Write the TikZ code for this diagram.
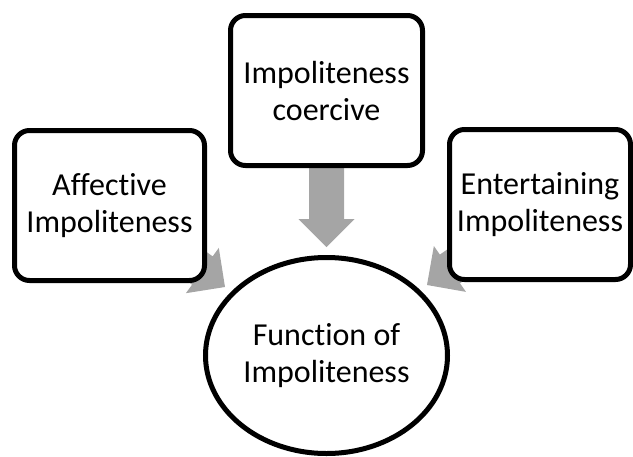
\documentclass[tikz,border=0pt]{standalone}
\usepackage{fontspec}
\setmainfont{Carlito}[Ligatures=NoCommon]
\usetikzlibrary{shapes.geometric}
\definecolor{arrowgray}{HTML}{A5A5A5}
\tikzset{
  box/.style={draw=black, line width=5pt, fill=white, rounded corners=15pt,
    align=center, inner sep=0pt, font=\fontsize{32}{37}\selectfont},
  hub/.style={draw=black, line width=5pt, fill=white, ellipse, align=center,
    inner sep=0pt, font=\fontsize{32}{37}\selectfont},
  pics/blockarrow/.style={code={
    \fill[arrowgray] (0,0) -- (-28,28) -- (-28,17.5) -- (-100,17.5) -- (-100,-17.5)
      -- (-28,-17.5) -- (-28,-28) -- cycle;
  }}
}
\begin{document}
\begin{tikzpicture}[x=1pt,y=-1pt]
\useasboundingbox (0,0) rectangle (633,456);
% arrows (behind)
\pic[rotate=-90] at (326.5,247) {blockarrow};
\pic[rotate=-36] at (225,287) {blockarrow};
\pic[rotate=215] at (427,285) {blockarrow};
% boxes
\node[box, minimum width=190pt, minimum height=150pt] (aff) at (109.5,205.5) {Affective\\Impoliteness};
\node[box, minimum width=192pt, minimum height=150pt] (coe) at (326.5,90.5) {Impoliteness\\coercive};
\node[box, minimum width=181pt, minimum height=150pt] (ent) at (540,204.5) {Entertaining\\Impoliteness};
\node[hub, minimum width=242pt, minimum height=196pt] (fun) at (326.5,355.5) {Function of\\Impoliteness};
\end{tikzpicture}
\end{document}
